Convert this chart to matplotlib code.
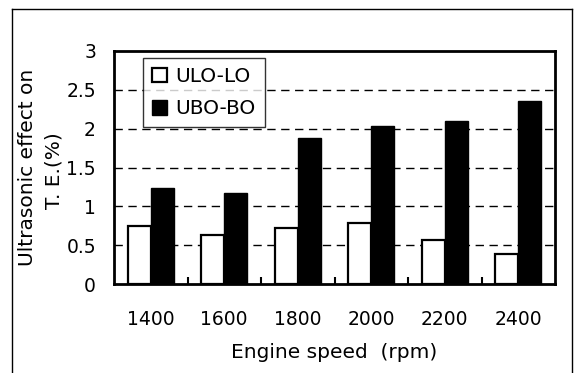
import matplotlib
matplotlib.use("Agg")
import matplotlib.pyplot as plt
from matplotlib.lines import Line2D
from matplotlib.patches import Patch
import numpy as np

plt.rcParams['font.family'] = ['DejaVu Sans']

speeds = ["1400", "1600", "1800", "2000", "2200", "2400"]
ulo_lo = [0.75, 0.63, 0.72, 0.78, 0.57, 0.39]
ubo_bo = [1.24, 1.17, 1.88, 2.03, 2.10, 2.36]
yticks = [0, 0.5, 1, 1.5, 2, 2.5, 3]
ytick_labels = ["0", "0.5", "1", "1.5", "2", "2.5", "3"]

W, H = 574, 373
fig = plt.figure(figsize=(W/100, H/100), dpi=100)
ax = fig.add_axes([114/W, 1-284/H, (555-114)/W, (284-51)/H])

x = np.arange(len(speeds))
bw = 0.31
ax.bar(x, ulo_lo, width=-bw, align='edge', color='white', edgecolor='black', linewidth=1.6, zorder=3, label='ULO-LO')
ax.bar(x, ubo_bo, width=bw, align='edge', color='black', edgecolor='black', linewidth=1.0, zorder=3, label='UBO-BO')

ax.set_xlim(-0.5, len(speeds)-0.5)
ax.set_ylim(0, 3)
ax.set_yticks(yticks)
ax.set_yticklabels(ytick_labels)
ax.set_xticks(x)
ax.set_xticklabels(speeds)
ax.set_xticks(np.arange(len(speeds)-1)+0.5, minor=True)
ax.tick_params(axis='x', which='major', length=0, pad=19, labelsize=13.5)
ax.tick_params(axis='x', which='minor', direction='in', length=5, width=1.5)
ax.tick_params(axis='y', length=0, pad=13, labelsize=13.5)

for v in yticks[1:-1]:
    ax.axhline(v, color='black', linewidth=1.0, linestyle=(0, (6, 4)), zorder=1)

for s in ax.spines.values():
    s.set_linewidth(2)

leg_handles = [Patch(facecolor='white', edgecolor='black', linewidth=1.6),
               Patch(facecolor='black', edgecolor='black')]
leg = ax.legend(leg_handles, ['ULO-LO', 'UBO-BO'], loc='upper left',
                bbox_to_anchor=((143-114)/(555-114), 1-(58-51)/(284-51)),
                fontsize=14.5, frameon=True, fancybox=False, edgecolor='black',
                handlelength=0.75, handleheight=0.75, handletextpad=0.4,
                borderpad=0.45, labelspacing=0.65, borderaxespad=0)
leg.get_frame().set_linewidth(1.0)
leg.set_zorder(5)

fig.text((114+555)/2/W, 1-353/H, "Engine speed  (rpm)", ha='center', va='center', fontsize=14.5)
fig.text(28/W, 1-167.5/H, "Ultrasonic effect on", ha='center', va='center',
         rotation=90, fontsize=14.5)
fig.text(54/W, 1-171/H, "T. E.(%)", ha='center', va='center',
         rotation=90, fontsize=14.5)

# outer frame
fig.add_artist(Line2D([12/W, 12/W], [0, 1-9/H], transform=fig.transFigure, color='black', linewidth=1))
fig.add_artist(Line2D([12/W, 572/W], [1-9/H, 1-9/H], transform=fig.transFigure, color='black', linewidth=1))
fig.add_artist(Line2D([572/W, 572/W], [0, 1-9/H], transform=fig.transFigure, color='black', linewidth=1))

fig.savefig("out.png", dpi=100)
